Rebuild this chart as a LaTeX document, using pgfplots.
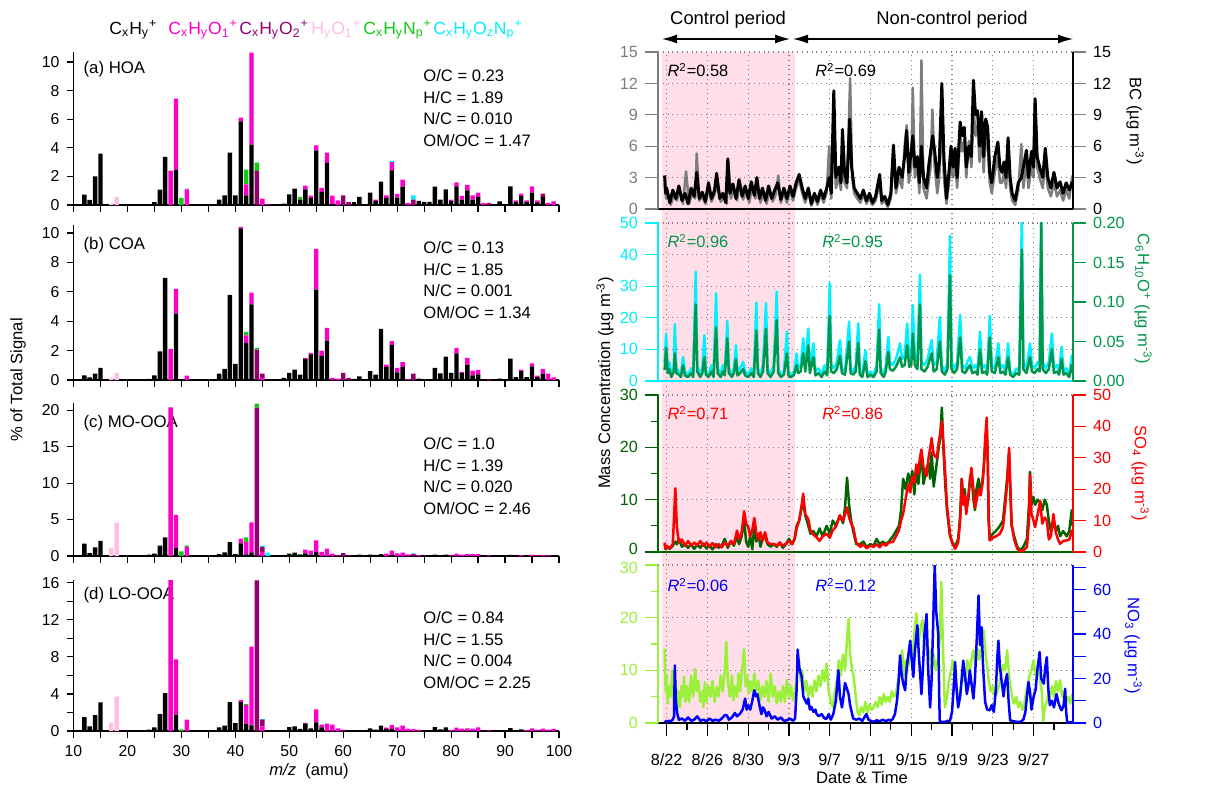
\documentclass[border=0pt]{standalone}
\usepackage{fontspec}
\setmainfont{Liberation Sans}
\usepackage{pgfplots}
\pgfplotsset{compat=1.18}
\usepackage{pgfplotstable}
\usetikzlibrary{arrows.meta}

% ion-family colours
\definecolor{cCH}{RGB}{0,0,0}
\definecolor{cO1}{RGB}{255,0,204}
\definecolor{cO2}{RGB}{150,0,110}
\definecolor{cHO}{RGB}{255,190,230}
\definecolor{cN}{RGB}{20,200,20}
\definecolor{cON}{RGB}{0,240,255}
% time-series colours
\definecolor{bcgray}{RGB}{125,125,125}
\definecolor{coacyan}{RGB}{0,240,255}
\definecolor{mzgreen}{RGB}{0,150,75}
\definecolor{moodark}{RGB}{0,100,0}
\definecolor{loolight}{RGB}{155,240,60}
\definecolor{pinkbg}{RGB}{255,222,234}

% m/z  CxHy  CxHyO1  CxHyO2  HyO1  CxHyNp  CxHyOzNp
\pgfplotstableread{
mz CH O1 O2 HO N ON
12 0.72 0 0 0 0 0
13 0.35 0 0 0 0 0
14 2.00 0 0 0 0 0
15 3.60 0 0 0 0 0
17 0 0 0 0.10 0 0
18 0 0 0 0.55 0 0
24 0.03 0 0 0 0 0
25 0.20 0 0 0 0 0
26 1.07 0 0 0 0 0
27 3.36 0 0 0 0 0
28 0 2.40 0 0 0 0
29 2.47 4.97 0 0 0 0
30 0 0 0 0 0.50 0
31 0 1.10 0 0 0.05 0
37 0.37 0 0 0 0 0
38 0.68 0 0 0 0 0
39 3.66 0 0 0 0 0
40 0.68 0 0 0 0 0
41 5.85 0.26 0 0 0 0
42 0.68 0.77 0 0 1.03 0
43 4.22 6.43 0 0 0 0
44 0 0 2.38 0 0.58 0
45 0 0.44 0 0 0 0
46 0 0.05 0 0 0 0
49 0.10 0 0 0 0 0
50 0.75 0 0 0 0 0
51 1.14 0 0 0 0 0
52 0.37 0 0 0 0.19 0
53 1.10 0.26 0 0 0 0
54 0.49 0.16 0 0 0 0
55 3.82 0.35 0 0 0 0
56 0.91 0.28 0 0 0 0
57 2.94 0.72 0 0 0 0
58 0.05 0.60 0 0 0 0
59 0 0.33 0 0 0 0
60 0 0 0.68 0 0 0
61 0 0 0.20 0 0 0
62 0.20 0 0 0 0 0
63 0.56 0 0 0 0 0
65 0.86 0 0 0 0 0
66 0.28 0.09 0 0 0 0
67 1.63 0 0 0 0 0
68 0.49 0.19 0 0 0 0
69 2.42 0.58 0 0 0 0.08
70 0.51 0.26 0 0 0 0
71 1.28 0.49 0 0 0 0
72 0 0.14 0 0 0 0
73 0 0 0.37 0 0 0.30
74 0.28 0 0 0 0 0
75 0.21 0 0 0 0 0
76 0.21 0 0 0 0 0
77 1.28 0 0 0 0 0
78 0.37 0 0 0 0 0
79 1.10 0 0 0 0 0
80 0.28 0.09 0 0 0 0
81 1.30 0.28 0 0 0 0
82 0.37 0.26 0 0 0 0
83 1.03 0.37 0 0 0 0
84 0.37 0.30 0 0 0 0
85 0.56 0.30 0 0 0 0
86 0 0.14 0 0 0 0
87 0 0 0.14 0 0 0
89 0.26 0 0 0 0 0
91 1.30 0 0 0 0 0
92 0.21 0.12 0 0 0 0
93 0.63 0.16 0 0 0 0
94 0.20 0.12 0 0 0 0
95 0.86 0.44 0 0 0 0
96 0.19 0.14 0 0 0 0
97 0.56 0 0.23 0 0 0
98 0 0.14 0 0 0 0
99 0 0.26 0 0 0 0
}\tblHOA

\pgfplotstableread{
mz CH O1 O2 HO N ON
12 0.32 0 0 0 0 0
13 0.18 0 0 0 0 0
14 0.43 0 0 0 0 0
15 0.82 0 0 0 0 0
17 0 0 0 0.14 0 0
18 0 0 0 0.48 0 0
24 0.07 0 0 0 0 0
25 0.32 0 0 0 0 0
26 1.95 0 0 0 0 0
27 6.95 0 0 0 0 0
28 0 2.11 0 0 0 0
29 4.52 1.68 0 0 0 0
31 0 0.30 0 0 0 0
37 0.43 0 0 0 0 0
38 0.75 0 0 0 0 0
39 5.80 0 0 0 0 0
40 1.09 0 0 0 0 0
41 10.32 0.11 0 0 0 0
42 2.52 0.52 0 0 0.23 0
43 5.14 0.80 0 0 0 0
44 0 0 2.07 0 0.10 0
45 0 0.15 0.28 0 0 0
49 0.14 0 0 0 0 0
50 0.48 0 0 0 0 0
51 0.70 0 0 0 0 0
52 0.36 0 0 0 0 0
53 1.43 0.07 0 0 0 0
54 1.75 0.09 0 0 0 0
55 6.16 2.77 0 0 0 0
56 1.64 0.36 0 0 0 0
57 2.68 0.86 0 0 0 0
58 0 0.14 0 0 0 0
59 0 0.09 0 0 0 0
60 0 0 0.48 0 0 0
61 0 0 0.14 0 0 0
62 0.07 0 0 0 0 0
63 0.25 0 0 0 0 0
65 0.61 0 0 0 0 0
66 0.36 0 0 0 0 0
67 3.48 0 0 0 0 0
68 0.89 0.16 0 0 0 0
69 2.39 0.25 0 0 0 0
70 0.52 0.30 0 0 0 0
71 0.89 0.32 0 0 0 0
72 0 0.05 0 0 0 0
73 0 0 0.43 0 0 0
74 0.09 0 0 0 0 0
77 0.82 0 0 0 0 0
78 0.45 0 0 0 0 0
79 1.59 0 0 0 0 0
80 0.48 0 0 0 0 0
81 1.82 0.36 0 0 0 0
82 0.48 0.07 0 0 0 0
83 1.05 0.45 0 0 0 0
84 0.32 0.32 0 0 0 0
85 0.39 0.30 0 0 0 0
87 0 0 0.05 0 0 0
89 0.10 0 0 0 0 0
91 1.45 0 0 0 0 0
92 0.20 0 0 0 0 0
93 0.61 0.09 0 0 0 0
94 0.20 0 0 0 0 0
95 0.93 0.20 0 0 0 0
96 0.20 0.09 0 0 0 0
97 0.43 0.32 0 0 0 0
98 0 0.43 0 0 0 0
99 0 0.18 0 0 0 0
}\tblCOA

\pgfplotstableread{
mz CH O1 O2 HO N ON
12 1.70 0 0 0 0 0
13 0.40 0 0 0 0 0
14 1.20 0 0 0 0 0
15 2.06 0 0 0 0 0
17 0 0 0 1.10 0 0
18 0 0 0 4.58 0 0
24 0.20 0 0 0 0 0
25 0.32 0 0 0 0 0
26 1.42 0 0 0 0 0
27 2.56 0 0 0 0 0
28 0 20.40 0 0 0 0
29 1.10 4.53 0 0 0 0
30 0 0 0 0 0.64 0
31 0 1.24 0 0 0.18 0
37 0.27 0 0 0 0 0
38 0.50 0 0 0 0 0
39 1.92 0 0 0 0 0
40 0.27 0 0 0 0 0
41 1.74 0.64 0 0 0 0
42 0.23 1.69 0 0 0.64 0
43 0.50 4.12 0 0 0 0
44 0 0 20.37 0 0.55 0
45 0 0.55 0.69 0 0 0.18
46 0 0 0 0 0 0.46
50 0.32 0 0 0 0 0
51 0.46 0 0 0 0 0
52 0.15 0 0 0 0.12 0
53 0.37 0.50 0 0 0 0
54 0.18 0.55 0 0 0 0
55 0.55 1.60 0 0 0 0
56 0 0.55 0 0 0 0
57 0 1.00 0 0 0 0
58 0 0.32 0 0 0 0
59 0 0.10 0 0 0 0
60 0 0 0.41 0 0 0
61 0 0 0.10 0 0 0
62 0.10 0 0 0 0 0
63 0.18 0 0 0 0 0
65 0.18 0 0 0 0 0
66 0.14 0 0 0 0 0
67 0.27 0 0 0 0 0
68 0 0.32 0 0 0 0
69 0.10 0.63 0 0 0 0
70 0 0.37 0 0 0 0
71 0 0.46 0 0 0 0
72 0 0.23 0 0 0 0
73 0 0 0.25 0 0 0.12
74 0 0.14 0 0 0 0
77 0.18 0 0 0 0 0
78 0.10 0 0 0 0 0
79 0.18 0 0 0 0 0
80 0 0.10 0 0 0 0
81 0 0.32 0 0 0 0
82 0 0.18 0 0 0 0
83 0 0.27 0 0 0 0
84 0 0.27 0 0 0 0
85 0 0.27 0 0 0 0
87 0 0.08 0 0 0 0
89 0.05 0 0 0 0 0
91 0.15 0 0 0 0 0
93 0 0.12 0 0 0 0
95 0 0.20 0 0 0 0
96 0 0.10 0 0 0 0
97 0 0.15 0 0 0 0
98 0 0.08 0 0 0 0
}\tblMOOOA

\pgfplotstableread{
mz CH O1 O2 HO N ON
12 1.50 0 0 0 0 0
13 0.50 0 0 0 0 0
14 1.72 0 0 0 0 0
15 3.08 0 0 0 0 0
17 0 0 0 0.90 0 0
18 0 0 0 3.70 0 0
24 0.14 0 0 0 0 0
25 0.39 0 0 0 0 0
26 1.83 0 0 0 0 0
27 4.09 0 0 0 0 0
28 0 16.30 0 0 0 0
29 1.76 5.98 0 0 0 0
30 0 0 0 0 0.18 0
31 0 1.22 0 0 0 0
37 0.39 0 0 0 0 0
38 0.57 0 0 0 0 0
39 3.12 0 0 0 0 0
40 0.86 0 0 0 0 0
41 3.12 0.22 0 0 0 0
42 0.79 2.00 0 0 0.10 0
43 0.61 8.50 0 0 0 0
44 0 0 16.27 0 0.21 0
45 0 0.50 0.72 0 0 0.07
50 0.43 0 0 0 0 0
51 0.50 0 0 0 0 0
52 0.22 0 0 0 0 0
53 0.82 0.07 0 0 0 0
54 0.29 0 0 0 0 0
55 0.93 1.40 0 0 0 0
56 0.39 0.29 0 0 0 0
57 0 0.79 0 0 0 0
58 0 0.68 0 0 0 0
59 0 0.29 0 0 0 0
60 0 0.07 0.07 0 0 0
62 0.07 0 0 0 0 0
63 0.07 0 0 0 0 0
65 0.29 0 0 0 0 0
66 0.14 0 0 0 0 0
67 0.57 0 0 0 0 0
68 0.22 0.14 0 0 0 0
69 0.22 0.43 0 0 0 0
70 0 0.39 0 0 0 0
71 0 0.57 0 0 0 0
72 0 0.25 0 0 0 0
73 0 0.15 0.07 0 0 0
74 0 0.14 0 0 0 0
77 0.43 0 0 0 0 0
78 0.18 0 0 0 0 0
79 0.39 0 0 0 0 0
80 0 0.10 0 0 0 0
81 0 0.36 0 0 0 0
82 0 0.25 0 0 0 0
83 0 0.29 0 0 0 0
84 0 0.25 0 0 0 0
85 0 0.39 0 0 0 0
87 0 0.08 0 0 0 0
89 0.08 0 0 0 0 0
91 0.32 0 0 0 0 0
93 0.18 0 0 0 0 0
94 0 0.10 0 0 0 0
95 0 0.29 0 0 0 0
96 0 0.15 0 0 0 0
97 0 0.25 0 0 0 0
98 0 0.15 0 0 0 0
99 0 0.22 0 0 0 0
}\tblLOOOA

\tikzset{
  ratio/.style={anchor=north west, align=left, inner sep=0pt,
    font=\fontsize{8.3}{10.75}\selectfont},
  plab/.style={anchor=west, inner sep=0pt, font=\fontsize{8.4}{10}\selectfont},
  rsq/.style={anchor=west, inner sep=0pt, font=\fontsize{8.2}{10}\selectfont},
}
\pgfplotsset{
  /pgf/number format/assume math mode=true,
  msaxis/.style={
    scale only axis, width=242.75pt, anchor=south west,
    xmin=10, xmax=100, ymin=0,
    axis x line*=bottom, axis y line*=left, tick align=outside,
    xtick={10,20,...,100}, minor xtick={15,25,...,95},
    major tick length=3.5pt, minor tick length=3.5pt,
    ybar stacked, bar width=0.82,
    axis line style={line width=0.6pt}, tick style={line width=0.6pt, black},
    tick label style={font=\fontsize{7.9}{9}\selectfont},
    every axis plot/.append style={draw=none},
  },
  tsbase/.style={
    scale only axis, width=207.5pt, anchor=south west,
    xmin=21.15, xmax=61.87, ymin=0,
    tick align=outside, major tick length=6.5pt, minor tick length=3.5pt,
    every axis plot/.append style={line width=1.25pt, line join=round, mark=none},
    grid style={dotted, gray, line width=0.55pt},
    axis line style={line width=0.6pt}, tick style={line width=0.6pt},
    tick label style={font=\fontsize{8.1}{9.2}\selectfont},
    yticklabel style={inner ysep=0pt},
  },
  tsleft/.style={tsbase, axis y line*=left, axis x line*=bottom, ymajorgrids},
  tsright/.style={tsbase, axis y line*=right, axis x line=none, xtick=\empty},
}

\newcommand{\msbars}[1]{%
  \addplot[fill=cCH] table[x=mz,y=CH]{#1};
  \addplot[fill=cO1] table[x=mz,y=O1]{#1};
  \addplot[fill=cO2] table[x=mz,y=O2]{#1};
  \addplot[fill=cHO] table[x=mz,y=HO]{#1};
  \addplot[fill=cN] table[x=mz,y=N]{#1};
  \addplot[fill=cON] table[x=mz,y=ON]{#1};
}
\newcommand{\unitlab}{(µg m\textsuperscript{-3})}

\begin{document}
\begin{tikzpicture}[font=\fontsize{8.2}{9.8}\selectfont]
\useasboundingbox (0pt,0pt) rectangle (612.5pt,-393pt);

% ===================== profile spectra =====================
\begin{axis}[msaxis, at={(36.75pt,-102.5pt)}, height=76.5pt, ymax=10.7,
  ytick={0,2,...,10}, xticklabel=\empty]
\msbars{\tblHOA}
\node[plab] at (rel axis cs:0.02,0.889) {(a) HOA};
\node[ratio] at (rel axis cs:0.72,0.886) {O/C = 0.23\\H/C = 1.89\\N/C = 0.010\\OM/OC = 1.47};
\end{axis}

\begin{axis}[msaxis, at={(36.75pt,-190pt)}, height=77.5pt, ymax=10.55,
  ytick={0,2,...,10}, xticklabel=\empty]
\msbars{\tblCOA}
\node[plab] at (rel axis cs:0.02,0.871) {(b) COA};
\node[ratio] at (rel axis cs:0.72,0.894) {O/C = 0.13\\H/C = 1.85\\N/C = 0.001\\OM/OC = 1.34};
\end{axis}

\begin{axis}[msaxis, at={(36.75pt,-278pt)}, height=76.5pt, ymax=21,
  ytick={0,5,...,20}, xticklabel=\empty]
\msbars{\tblMOOOA}
\node[plab] at (rel axis cs:0.02,0.869) {(c) MO-OOA};
\node[ratio] at (rel axis cs:0.72,0.775) {O/C = 1.0\\H/C = 1.39\\N/C = 0.020\\OM/OC = 2.46};
\end{axis}

\begin{axis}[msaxis, at={(36.75pt,-365.5pt)}, height=75.5pt, ymax=16.3,
  ytick={0,4,...,16}, minor ytick={2,6,10,14}]
\msbars{\tblLOOOA}
\node[plab] at (rel axis cs:0.02,0.9) {(d) LO-OOA};
\node[ratio] at (rel axis cs:0.72,0.791) {O/C = 0.84\\H/C = 1.55\\N/C = 0.004\\OM/OC = 2.25};
\end{axis}

% legend of ion families
\begin{scope}[every node/.style={anchor=base west, inner sep=0pt, font=\fontsize{8.8}{11}\selectfont}]
\node[text=cCH] at (54.5pt,-17.5pt) {C\textsubscript{x}H\textsubscript{y}\textsuperscript{+}};
\node[text=cO1] at (84pt,-17.5pt) {C\textsubscript{x}H\textsubscript{y}O\textsubscript{1}\textsuperscript{+}};
\node[text=cO2] at (119.5pt,-17.5pt) {C\textsubscript{x}H\textsubscript{y}O\textsubscript{2}\textsuperscript{+}};
\node[text=cHO] at (155.5pt,-17.5pt) {H\textsubscript{y}O\textsubscript{1}\textsuperscript{+}};
\node[text=cN] at (181.5pt,-17.5pt) {C\textsubscript{x}H\textsubscript{y}N\textsubscript{p}\textsuperscript{+}};
\node[text=cON] at (216.5pt,-17.5pt) {C\textsubscript{x}H\textsubscript{y}O\textsubscript{z}N\textsubscript{p}\textsuperscript{+}};
\end{scope}

\node[rotate=90, font=\fontsize{8.3}{10}\selectfont] at (9pt,-190pt) {\% of Total Signal};
\node[font=\fontsize{8.3}{10}\selectfont] at (154.5pt,-385.8pt) {\textit{m/z}\ \ (amu)};

% ===================== time series =====================
% shared background: control-period shading and date grid
\begin{axis}[scale only axis, width=207.5pt, height=335.5pt, anchor=south west,
  at={(329pt,-361.5pt)}, xmin=21.15, xmax=61.87, ymin=0, ymax=1,
  axis line style={draw=none}, tick style={draw=none},
  xtick={22,26,...,58}, xticklabel=\empty, ytick=\empty,
  xmajorgrids, grid style={dotted, gray, line width=0.55pt}, axis on top]
\addplot[fill=pinkbg, draw=none] coordinates {(21.54,0) (21.54,1) (34.6,1) (34.6,0)} \closedcycle;
\end{axis}

% ---- panel 1: BC
\begin{axis}[tsleft, at={(329pt,-104.5pt)}, height=78.5pt, ymax=15,
  ytick={0,3,...,15}, xtick=\empty,
  y axis line style={bcgray}, ytick style={bcgray}, yticklabel style={text=bcgray},
  x axis line style={black}]
\addplot[bcgray] coordinates {(21.8,2.5)(21.95,1.0)(22.1,1.5)(22.4,0.4)(22.7,1.3)(23.0,0.8)(23.3,1.8)(23.6,0.5)(23.9,3.6)(24.2,0.5)(24.5,1.5)(24.8,1.0)(24.95,5.3)(25.2,0.8)(25.5,1.2)(25.8,0.5)(26.1,2.0)(26.4,0.7)(26.7,1.4)(27.0,2.5)(27.3,0.7)(27.6,1.2)(27.9,0.5)(28.05,4.5)(28.3,1.0)(28.6,1.8)(28.9,0.8)(29.2,2.5)(29.5,0.9)(29.8,1.8)(30.1,0.6)(30.4,2.2)(30.7,1.0)(30.9,2.5)(31.2,0.6)(31.5,1.6)(31.8,0.5)(32.1,1.8)(32.4,0.7)(32.7,1.4)(32.95,3.2)(33.2,0.6)(33.5,1.6)(33.8,0.6)(34.1,1.8)(34.4,0.8)(34.7,2.0)(35.0,2.8)(35.3,1.5)(35.6,0.6)(35.9,1.6)(36.2,0.3)(36.5,1.2)(36.8,0.4)(37.1,1.4)(37.4,0.6)(37.7,1.6)(37.95,6.0)(38.15,1.0)(38.4,8.0)(38.6,2.0)(38.9,3.0)(39.1,1.8)(39.25,6.0)(39.45,2.5)(39.7,2.0)(40.0,12.5)(40.2,3.0)(40.4,1.5)(40.7,1.0)(41.0,0.6)(41.3,1.4)(41.6,0.5)(41.9,1.0)(42.2,0.4)(42.5,0.8)(42.9,2.5)(43.1,0.5)(43.4,0.8)(43.7,0.2)(44.0,1.0)(44.25,5.5)(44.5,1.5)(44.8,3.0)(45.1,2.0)(45.35,6.0)(45.55,8.0)(45.75,2.5)(46.0,4.0)(46.15,11.6)(46.35,3.0)(46.6,4.0)(46.8,1.5)(47.0,14.2)(47.2,2.0)(47.5,1.0)(47.7,2.5)(47.9,4.0)(48.07,9.5)(48.3,4.0)(48.55,1.5)(48.75,3.0)(49.0,9.0)(49.2,3.0)(49.45,0.5)(49.7,2.5)(49.9,4.5)(50.1,3.0)(50.3,4.5)(50.5,2.0)(50.8,7.0)(51.0,5.5)(51.2,6.5)(51.4,3.0)(51.65,6.5)(51.9,4.0)(52.1,10.0)(52.3,7.0)(52.5,8.0)(52.7,4.5)(52.9,7.5)(53.1,3.5)(53.3,7.0)(53.5,6.0)(53.7,2.5)(53.9,1.5)(54.2,3.5)(54.5,5.0)(54.7,2.5)(54.9,2.5)(55.1,3.5)(55.3,2.0)(55.5,5.5)(55.7,2.0)(55.9,0.8)(56.2,0.4)(56.5,1.8)(56.8,6.2)(57.0,2.0)(57.3,4.5)(57.5,2.0)(57.8,4.0)(58.0,3.0)(58.15,10.6)(58.35,4.0)(58.6,3.0)(58.9,2.0)(59.15,4.5)(59.4,2.0)(59.7,1.2)(60.0,2.5)(60.3,1.2)(60.6,1.8)(60.9,0.8)(61.2,1.8)(61.5,1.0)(61.8,3.2)};
\node[rsq] at (rel axis cs:0.022,0.885) {\textit{R}\textsuperscript{2}=0.58};
\node[rsq] at (rel axis cs:0.378,0.885) {\textit{R}\textsuperscript{2}=0.69};
\end{axis}
\begin{axis}[tsright, at={(329pt,-104.5pt)}, height=78.5pt, ymax=15, ytick={0,3,...,15}]
\addplot[black, line width=1.5pt] coordinates {(21.8,3.2)(21.9,1.5)(22.0,2.0)(22.3,0.6)(22.6,1.8)(22.9,1.0)(23.2,2.2)(23.5,0.8)(23.8,1.5)(24.1,0.5)(24.4,2.0)(24.7,1.2)(24.95,3.5)(25.2,1.0)(25.5,1.6)(25.8,0.7)(26.1,2.5)(26.4,1.0)(26.7,1.8)(26.9,3.4)(27.2,1.0)(27.5,1.5)(27.8,0.6)(28.0,4.8)(28.2,1.5)(28.5,2.4)(28.8,1.0)(29.1,2.8)(29.4,1.2)(29.7,2.2)(30.0,1.0)(30.3,2.6)(30.6,1.3)(30.85,3.0)(31.1,1.0)(31.4,2.0)(31.7,0.8)(32.0,2.2)(32.3,1.0)(32.6,1.8)(32.9,2.5)(33.2,0.9)(33.5,2.0)(33.8,1.0)(34.1,2.2)(34.4,1.2)(34.7,2.5)(35.0,3.3)(35.3,2.0)(35.6,1.0)(35.9,2.0)(36.2,0.5)(36.5,1.5)(36.8,0.7)(37.1,1.8)(37.4,1.0)(37.7,2.0)(37.95,3.0)(38.15,1.5)(38.4,11.3)(38.6,3.0)(38.9,4.0)(39.1,2.5)(39.25,7.6)(39.45,3.5)(39.7,2.5)(39.95,8.6)(40.15,4.0)(40.4,2.0)(40.7,1.5)(41.0,1.0)(41.3,1.8)(41.6,0.8)(41.9,1.5)(42.2,0.6)(42.5,1.2)(42.9,3.3)(43.1,0.8)(43.4,1.2)(43.7,0.4)(44.0,1.5)(44.25,6.1)(44.5,2.0)(44.8,4.0)(45.1,3.0)(45.35,5.0)(45.55,7.5)(45.75,3.5)(46.0,5.5)(46.15,7.0)(46.35,4.0)(46.6,5.0)(46.8,2.5)(47.0,6.0)(47.2,3.0)(47.5,2.0)(47.7,4.0)(47.9,5.5)(48.1,7.0)(48.3,5.5)(48.55,3.0)(48.75,4.5)(49.0,12.0)(49.2,5.0)(49.45,1.0)(49.7,3.5)(49.9,6.0)(50.1,4.0)(50.3,5.8)(50.5,3.0)(50.8,8.3)(51.0,7.0)(51.2,7.8)(51.4,4.0)(51.65,6.0)(51.9,5.0)(52.1,12.3)(52.3,9.0)(52.5,9.4)(52.7,6.0)(52.9,9.3)(53.1,5.0)(53.3,8.6)(53.5,7.8)(53.7,3.5)(53.9,2.5)(54.2,5.0)(54.5,6.4)(54.7,4.0)(54.9,3.5)(55.1,4.5)(55.3,3.0)(55.5,6.8)(55.7,3.0)(55.9,1.5)(56.2,0.8)(56.5,2.5)(56.8,3.0)(57.1,4.5)(57.3,5.6)(57.5,3.0)(57.8,5.5)(58.0,4.0)(58.15,10.5)(58.35,5.0)(58.6,4.0)(58.9,3.0)(59.15,5.8)(59.4,3.0)(59.7,2.0)(60.0,3.5)(60.3,2.0)(60.6,2.6)(60.9,1.5)(61.2,2.5)(61.5,1.8)(61.8,2.6)};
\end{axis}

% ---- panel 2: COA and C6H10O+
\begin{axis}[tsleft, at={(329pt,-190.5pt)}, height=79pt, ymax=50,
  ytick={0,10,...,50}, xtick=\empty,
  y axis line style={coacyan}, ytick style={coacyan}, yticklabel style={text=coacyan},
  x axis line style={coacyan}]
\addplot[coacyan] coordinates {(21.8,6)(21.95,15)(22.1,4)(22.25,6)(22.45,2)(22.7,5)(22.8,18)(22.95,4)(23.2,3)(23.4,2)(23.6,7.6)(23.8,3)(24.1,2)(24.4,4)(24.6,2)(24.85,34.6)(25.0,5)(25.3,2)(25.5,4)(25.7,14.5)(25.85,3)(26.1,2)(26.4,5)(26.6,2)(26.85,27.8)(27.0,4)(27.3,2)(27.5,5)(27.7,3)(27.95,19)(28.1,4)(28.4,2)(28.6,4)(28.8,11.3)(28.95,3)(29.2,4)(29.5,6)(29.7,3)(30.0,2)(30.3,4)(30.55,2)(30.8,24.8)(30.95,4)(31.2,2)(31.45,5)(31.75,24.6)(31.9,4)(32.2,2)(32.5,5)(32.8,28.3)(32.95,4)(33.2,2)(33.5,3)(33.8,15.6)(33.95,3)(34.2,2)(34.5,3)(34.75,8.7)(34.9,4)(35.15,5)(35.4,13.5)(35.6,5)(35.9,16.6)(36.05,4)(36.4,11.9)(36.6,3)(36.9,4)(37.2,2)(37.5,5)(37.75,3)(38.0,31)(38.15,5)(38.4,4)(38.7,6)(39.0,12.9)(39.2,4)(39.5,3)(39.9,18.8)(40.05,4)(40.3,3)(40.55,5)(40.8,18.2)(40.95,3)(41.2,2)(41.5,9.7)(41.7,2)(42.0,3)(42.3,2)(42.6,5)(42.85,24.3)(43.0,4)(43.3,2)(43.5,5)(43.75,14)(43.9,6)(44.2,5)(44.5,7)(44.9,11.9)(45.1,7)(45.35,8)(45.6,18.2)(45.8,7)(46.0,8)(46.15,24)(46.35,8)(46.6,6)(46.85,33.6)(47.0,6)(47.3,5)(47.6,7)(48.0,13)(48.2,5)(48.5,6)(48.8,20.3)(49.0,5)(49.3,3)(49.55,6)(49.8,46)(49.95,6)(50.2,4)(50.5,6)(50.8,20.9)(51.0,5)(51.3,4)(51.5,6)(51.75,7.6)(52.0,4)(52.3,5)(52.5,3)(52.75,15.6)(52.95,4)(53.2,5)(53.45,3)(53.7,20.6)(53.9,5)(54.2,4)(54.55,11.9)(54.75,4)(55.0,5)(55.25,3)(55.5,11.9)(55.7,3)(56.0,2)(56.3,4)(56.6,3)(56.85,52)(57.0,6)(57.3,4)(57.65,11.9)(57.85,5)(58.1,4)(58.4,6)(58.6,5)(58.75,52)(58.9,6)(59.2,4)(59.5,6)(59.8,15)(60.0,4)(60.3,5)(60.5,3)(60.75,10.8)(60.95,3)(61.2,4)(61.5,2)(61.75,8.2)(61.85,4)};
\node[rsq, text=mzgreen] at (rel axis cs:0.022,0.886) {\textit{R}\textsuperscript{2}=0.96};
\node[rsq, text=mzgreen] at (rel axis cs:0.395,0.886) {\textit{R}\textsuperscript{2}=0.95};
\end{axis}
\begin{axis}[tsright, at={(329pt,-190.5pt)}, height=79pt, ymax=0.2,
  ytick={0,0.05,0.1,0.15,0.2}, yticklabels={0.00,0.05,0.10,0.15,0.20},
  y axis line style={mzgreen}, ytick style={mzgreen}, yticklabel style={text=mzgreen}]
\addplot[mzgreen] coordinates {(21.8,0.014)(21.95,0.042)(22.1,0.01)(22.25,0.015)(22.45,0.005)(22.7,0.012)(22.8,0.035)(22.95,0.01)(23.2,0.008)(23.4,0.005)(23.6,0.02)(23.8,0.007)(24.1,0.005)(24.4,0.01)(24.6,0.005)(24.85,0.097)(25.0,0.012)(25.3,0.005)(25.5,0.01)(25.7,0.03)(25.85,0.008)(26.1,0.005)(26.4,0.012)(26.6,0.005)(26.85,0.068)(27.0,0.01)(27.3,0.005)(27.5,0.012)(27.7,0.007)(27.95,0.054)(28.1,0.01)(28.4,0.005)(28.6,0.01)(28.8,0.028)(28.95,0.007)(29.2,0.01)(29.5,0.015)(29.7,0.007)(30.0,0.005)(30.3,0.01)(30.55,0.005)(30.8,0.064)(30.95,0.01)(31.2,0.005)(31.45,0.012)(31.75,0.066)(31.9,0.01)(32.2,0.005)(32.5,0.012)(32.8,0.077)(32.95,0.01)(33.2,0.005)(33.5,0.008)(33.8,0.035)(33.95,0.007)(34.2,0.005)(34.5,0.008)(34.75,0.02)(34.9,0.01)(35.15,0.012)(35.4,0.035)(35.6,0.012)(35.9,0.045)(36.05,0.01)(36.4,0.03)(36.6,0.007)(36.9,0.01)(37.2,0.005)(37.5,0.012)(37.75,0.007)(38.0,0.082)(38.15,0.012)(38.4,0.01)(38.7,0.015)(39.0,0.032)(39.2,0.01)(39.5,0.008)(39.9,0.05)(40.05,0.01)(40.3,0.008)(40.55,0.012)(40.8,0.048)(40.95,0.008)(41.2,0.005)(41.5,0.025)(41.7,0.005)(42.0,0.008)(42.3,0.005)(42.6,0.012)(42.85,0.065)(43.0,0.01)(43.3,0.005)(43.5,0.012)(43.75,0.037)(43.9,0.015)(44.2,0.013)(44.5,0.018)(44.9,0.03)(45.1,0.018)(45.35,0.02)(45.6,0.045)(45.8,0.018)(46.0,0.02)(46.15,0.06)(46.35,0.02)(46.6,0.015)(46.85,0.097)(47.0,0.015)(47.3,0.012)(47.6,0.018)(48.0,0.035)(48.2,0.012)(48.5,0.015)(48.8,0.05)(49.0,0.012)(49.3,0.008)(49.55,0.015)(49.8,0.134)(49.95,0.015)(50.2,0.01)(50.5,0.015)(50.8,0.055)(51.0,0.012)(51.3,0.01)(51.5,0.015)(51.75,0.02)(52.0,0.01)(52.3,0.012)(52.5,0.008)(52.75,0.04)(52.95,0.01)(53.2,0.012)(53.45,0.008)(53.7,0.055)(53.9,0.012)(54.2,0.01)(54.55,0.03)(54.75,0.01)(55.0,0.012)(55.25,0.008)(55.5,0.03)(55.7,0.008)(56.0,0.005)(56.3,0.01)(56.6,0.008)(56.85,0.166)(57.0,0.015)(57.3,0.01)(57.65,0.03)(57.85,0.012)(58.1,0.01)(58.4,0.015)(58.6,0.012)(58.75,0.2)(58.9,0.015)(59.2,0.01)(59.5,0.015)(59.8,0.04)(60.0,0.01)(60.3,0.012)(60.5,0.008)(60.75,0.028)(60.95,0.008)(61.2,0.01)(61.5,0.005)(61.75,0.02)(61.85,0.01)};
\end{axis}

% ---- panel 3: MO-OOA and SO4
\begin{axis}[tsleft, at={(329pt,-276pt)}, height=78.5pt, ymax=30,
  ytick={10,20,30}, minor ytick={5,15,25}, xtick=\empty,
  extra y ticks={0}, extra y tick style={yticklabel style={yshift=1.6pt}, major grid style={draw=none}},
  y axis line style={moodark}, ytick style={moodark}, yticklabel style={text=moodark},
  x axis line style={moodark}]
\addplot[moodark] coordinates {(21.8,1.5)(21.9,0.5)(22.0,1.0)(22.3,0.6)(22.6,1.2)(22.85,2.0)(23.0,1.5)(23.2,2.5)(23.5,1.0)(23.8,1.5)(24.1,0.8)(24.4,1.5)(24.7,0.6)(25.0,1.4)(25.3,0.8)(25.6,1.6)(25.9,0.7)(26.2,1.2)(26.5,0.5)(26.8,1.5)(27.1,0.8)(27.4,1.2)(27.7,2.5)(28.0,0.8)(28.3,2.0)(28.6,1.2)(28.9,3.0)(29.1,1.5)(29.35,3.0)(29.6,6.0)(29.8,2.0)(30.0,1.0)(30.2,3.0)(30.4,0.5)(30.6,5.0)(30.8,2.0)(31.0,3.5)(31.2,1.0)(31.4,2.5)(31.65,3.0)(31.9,1.5)(32.2,1.0)(32.5,1.5)(32.8,1.0)(33.1,1.8)(33.4,0.8)(33.7,1.5)(34.0,2.5)(34.3,1.5)(34.55,2.5)(34.75,5.0)(35.0,6.0)(35.2,8.0)(35.4,9.5)(35.6,7.0)(35.9,5.0)(36.1,3.5)(36.4,4.0)(36.7,3.0)(37.0,4.5)(37.3,3.0)(37.7,5.0)(38.0,3.5)(38.3,6.0)(38.6,5.0)(39.0,7.0)(39.3,5.5)(39.5,8.5)(39.7,14.2)(39.9,9.0)(40.1,6.0)(40.3,4.0)(40.6,1.5)(41.0,1.5)(41.3,2.0)(41.6,1.0)(42.0,1.5)(42.3,1.2)(42.6,2.5)(42.9,1.5)(43.2,2.0)(43.5,1.5)(43.8,2.0)(44.2,3.0)(44.5,4.0)(44.8,5.0)(45.0,8.0)(45.2,14.0)(45.45,12.0)(45.7,15.0)(45.9,13.0)(46.1,15.5)(46.3,11.0)(46.5,16.0)(46.7,13.0)(46.85,16.0)(47.0,19.0)(47.2,13.0)(47.5,16.0)(47.7,17.0)(47.85,14.0)(48.0,19.0)(48.2,12.5)(48.5,17.0)(48.7,20.0)(48.85,22.0)(49.0,27.6)(49.15,20.0)(49.3,14.0)(49.5,8.0)(49.8,3.0)(50.0,2.0)(50.3,1.0)(50.6,2.5)(50.8,7.0)(50.95,14.0)(51.1,10.0)(51.25,12.0)(51.4,8.0)(51.6,10.0)(51.75,14.0)(51.9,15.0)(52.1,10.0)(52.25,8.0)(52.4,12.0)(52.6,14.0)(52.8,11.0)(53.0,14.0)(53.1,16.0)(53.25,20.0)(53.4,24.0)(53.5,18.0)(53.6,6.0)(53.7,2.5)(54.0,3.5)(54.3,4.0)(54.7,5.0)(55.0,6.0)(55.2,10.0)(55.4,14.0)(55.6,19.0)(55.75,10.0)(55.85,5.0)(56.1,3.0)(56.4,1.0)(56.7,0.3)(57.0,1.0)(57.35,2.5)(57.55,9.0)(57.65,15.3)(57.8,9.0)(58.0,10.5)(58.15,9.0)(58.4,10.0)(58.65,9.5)(58.85,8.0)(59.1,10.0)(59.3,9.0)(59.5,6.0)(59.7,4.0)(59.95,5.5)(60.2,4.0)(60.4,5.0)(60.6,3.0)(60.9,4.0)(61.25,3.0)(61.5,4.0)(61.75,8.0)(61.85,5.0)};
\node[rsq, text=red] at (rel axis cs:0.022,0.885) {\textit{R}\textsuperscript{2}=0.71};
\node[rsq, text=red] at (rel axis cs:0.395,0.885) {\textit{R}\textsuperscript{2}=0.86};
\end{axis}
\begin{axis}[tsright, at={(329pt,-276pt)}, height=78.5pt, ymax=50,
  ytick={0,10,...,50},
  y axis line style={red}, ytick style={red}, yticklabel style={text=red}]
\addplot[red] coordinates {(21.8,3.0)(21.9,1.0)(22.0,2.0)(22.3,1.2)(22.6,2.5)(22.85,20.3)(23.0,8)(23.2,3)(23.5,4)(23.8,2)(24.1,3.5)(24.4,2)(24.7,3)(25.0,2.2)(25.3,3.5)(25.6,2)(25.9,3)(26.2,1.8)(26.5,2.8)(26.8,1.5)(27.1,2.5)(27.4,1.5)(27.7,3)(28.0,2)(28.3,3.5)(28.6,2.5)(28.9,6.8)(29.1,4)(29.35,6)(29.6,13)(29.8,9)(30.0,8)(30.2,5)(30.4,7)(30.6,10.8)(30.8,6)(31.0,4)(31.2,6.3)(31.4,3.5)(31.65,6.3)(31.9,3)(32.2,2.5)(32.5,2.6)(32.8,2)(33.1,3)(33.4,2)(33.7,2.6)(34.0,3.5)(34.3,2.5)(34.55,4)(34.75,7.4)(35.0,10)(35.2,14)(35.4,18.6)(35.6,12)(35.9,10.5)(36.1,7)(36.4,5.5)(36.7,4.7)(37.0,3.5)(37.3,5)(37.7,5.8)(38.0,4.5)(38.3,7)(38.6,8)(39.0,11.6)(39.3,10)(39.5,12)(39.7,14.2)(39.9,11)(40.1,9)(40.3,7.9)(40.6,3)(41.0,1.6)(41.3,2.5)(41.6,1.2)(42.0,2)(42.3,1.6)(42.6,2.5)(42.9,1.5)(43.2,2.8)(43.5,2)(43.8,3)(44.2,3.2)(44.5,5)(44.8,7)(45.0,10)(45.2,12.1)(45.45,17)(45.7,21.6)(45.9,19)(46.1,24)(46.3,22)(46.5,27.9)(46.7,25)(46.85,30)(47.0,32.6)(47.2,27)(47.5,24.2)(47.7,30)(47.85,33)(48.0,36.3)(48.2,31)(48.5,30)(48.7,35)(48.85,38)(49.0,41.6)(49.15,35)(49.3,26.8)(49.5,15)(49.8,5.8)(50.0,3)(50.3,1)(50.6,3)(50.8,10)(50.95,23.2)(51.1,15)(51.25,18)(51.4,12.1)(51.6,18)(51.75,22)(51.9,26.8)(52.1,20)(52.25,14)(52.4,16.3)(52.6,20)(52.8,18)(53.0,22)(53.1,25.8)(53.25,36)(53.4,42.8)(53.5,30)(53.6,10)(53.7,3.7)(54.0,4.5)(54.3,5)(54.7,5.8)(55.0,8)(55.2,14)(55.4,21.6)(55.6,33.2)(55.75,18)(55.85,8.9)(56.1,4)(56.4,1)(56.7,0.2)(57.0,0.5)(57.35,1.6)(57.55,10)(57.65,24.7)(57.8,12)(58.0,10)(58.15,7.9)(58.4,12)(58.65,16.3)(58.85,9)(59.1,11)(59.3,10)(59.5,4)(59.7,5)(59.95,12.1)(60.2,6)(60.4,4)(60.6,2.6)(60.9,3.5)(61.25,3.7)(61.5,4)(61.75,6.8)(61.85,5)};
\end{axis}

% ---- panel 4: LO-OOA and NO3
\begin{axis}[tsleft, at={(329pt,-361.5pt)}, height=79pt, ymax=30,
  ytick={0,10,20}, minor ytick={5,15,25},
  extra y ticks={30}, extra y tick style={yticklabel style={yshift=-1.6pt}},
  y axis line style={loolight}, ytick style={loolight}, yticklabel style={text=loolight},
  x axis line style={black}, xtick style={black},
  xtick={22,26,...,58}, minor xtick={24,28,...,60},
  xticklabels={8/22,8/26,8/30,9/3,9/7,9/11,9/15,9/19,9/23,9/27},
  xticklabel style={yshift=-5.5pt}]
\addplot[loolight] coordinates {(21.8,14.1)(21.9,6)(22.0,9)(22.1,3.7)(22.25,7)(22.4,5)(22.55,10)(22.7,4)(22.85,8)(23.0,3)(23.15,6)(23.3,3)(23.45,7)(23.6,5)(23.7,8.8)(23.85,4)(24.0,7)(24.2,4)(24.4,9)(24.6,5)(24.8,10.3)(24.95,6)(25.1,8)(25.3,4)(25.5,6)(25.6,3)(25.75,7.8)(25.9,4)(26.1,7)(26.3,5)(26.5,8)(26.7,4)(26.9,6.8)(27.1,5)(27.3,9)(27.5,6)(27.7,10)(27.85,15.4)(28.0,8)(28.2,5)(28.4,9)(28.55,4.3)(28.7,7)(28.9,5)(29.05,9.4)(29.2,6)(29.4,10)(29.6,14.1)(29.75,7)(29.9,9)(30.05,5.6)(30.2,8)(30.4,6)(30.6,9.4)(30.8,6)(31.0,8)(31.2,4.3)(31.4,7)(31.6,5)(31.8,8)(32.0,4)(32.2,9.4)(32.4,5)(32.6,7)(32.8,3.7)(33.0,6)(33.2,4)(33.4,7)(33.6,4)(33.8,8.1)(34.0,5)(34.2,7)(34.4,4.3)(34.6,6)(34.8,9)(35.0,11.9)(35.15,8)(35.3,10)(35.5,6)(35.7,8)(35.9,5)(36.1,7)(36.3,5)(36.5,8.1)(36.7,6)(36.9,9)(37.1,7)(37.3,10)(37.5,8)(37.7,11.3)(37.9,6)(38.1,4)(38.3,3)(38.5,6)(38.7,8)(38.9,11.9)(39.1,9)(39.3,13)(39.5,10)(39.7,16)(39.85,19.8)(40.0,13)(40.2,10)(40.35,8.8)(40.55,5)(40.75,2)(40.9,1.5)(41.1,3)(41.3,2)(41.5,4)(41.7,2)(41.9,3.5)(42.1,2.5)(42.3,3)(42.5,4)(42.7,3)(42.9,5)(43.1,3.5)(43.3,5.5)(43.5,4)(43.7,5)(43.9,4)(44.1,6)(44.3,5)(44.5,5.6)(44.7,8)(44.9,10)(45.1,13.8)(45.3,9)(45.5,12)(45.7,10.7)(45.9,14)(46.1,12)(46.3,17)(46.5,20.8)(46.7,15)(46.9,18)(47.1,19.5)(47.3,14)(47.5,16)(47.7,12)(47.85,13.8)(48.0,10)(48.2,13)(48.4,10)(48.6,11.9)(48.8,16)(48.95,26.8)(49.1,15)(49.3,3)(49.5,5)(49.7,8)(49.9,10)(50.1,11.9)(50.3,8)(50.5,6)(50.7,4.3)(50.9,7)(51.1,9)(51.3,8)(51.5,11.9)(51.7,9)(51.9,12)(52.1,13.8)(52.3,11)(52.5,14)(52.7,12)(52.9,15)(53.1,17.6)(53.3,13)(53.45,10.7)(53.6,8)(53.8,6)(54.0,7)(54.2,5)(54.4,5.6)(54.6,7)(54.8,9)(55.0,11)(55.2,10)(55.4,13.8)(55.6,9)(55.8,6)(56.0,4)(56.1,3.7)(56.3,5)(56.5,3)(56.7,4)(56.9,2.5)(57.05,3)(57.2,5)(57.4,7)(57.6,9)(57.8,10)(58.0,11.9)(58.2,9)(58.4,10)(58.6,8.8)(58.8,6)(58.95,0.3)(59.1,3)(59.3,4)(59.5,6)(59.6,5)(59.8,7)(60.0,5)(60.2,8)(60.4,6)(60.6,8.1)(60.8,5)(61.0,6)(61.2,4)(61.4,5)(61.6,3.7)(61.8,5.6)};
\node[rsq, text=blue] at (rel axis cs:0.022,0.873) {\textit{R}\textsuperscript{2}=0.06};
\node[rsq, text=blue] at (rel axis cs:0.378,0.873) {\textit{R}\textsuperscript{2}=0.12};
\end{axis}
\begin{axis}[tsright, at={(329pt,-361.5pt)}, height=79pt, ymax=71,
  ytick={0,10,...,70}, yticklabels={0,,20,,40,,60,},
  y axis line style={blue}, ytick style={blue}, yticklabel style={text=blue}]
\addplot[blue] coordinates {(21.8,1)(22.0,0.5)(22.2,1)(22.4,0.8)(22.6,1.5)(22.72,3)(22.8,25.9)(22.9,10)(23.05,4)(23.2,1.5)(23.5,2)(23.8,1)(24.1,2.5)(24.4,1)(24.7,1.5)(25.0,3)(25.3,1)(25.6,1.5)(25.9,0.8)(26.2,2)(26.5,1)(26.8,1.5)(27.1,1)(27.4,2)(27.7,3.5)(27.9,3.5)(28.1,1.5)(28.4,2.5)(28.7,4.5)(28.9,3)(29.2,4.2)(29.45,6)(29.7,11)(29.85,6)(30.0,8)(30.2,6)(30.4,10)(30.6,14.7)(30.75,12)(30.9,13)(31.1,8)(31.3,4)(31.45,7)(31.6,6)(31.8,3)(32.0,5)(32.3,2)(32.6,3)(32.9,1.5)(33.2,2.5)(33.5,1)(33.8,1.2)(34.1,2)(34.4,1)(34.6,2)(34.75,15)(34.85,33)(35.0,25)(35.25,20.7)(35.4,12)(35.6,10)(35.75,8.7)(35.9,11)(36.05,6)(36.2,7.2)(36.4,5)(36.6,6)(36.7,4.2)(36.9,3)(37.2,4)(37.5,2)(37.7,2)(37.9,4)(38.1,1.5)(38.35,4)(38.6,10)(38.85,23.7)(39.0,12)(39.2,7)(39.35,12)(39.5,18)(39.65,16)(39.85,13)(40.0,8)(40.15,5)(40.3,2)(40.6,1.5)(40.9,2)(41.2,1)(41.4,2.5)(41.6,4)(41.8,1.5)(42.0,1)(42.3,0.5)(42.6,1.2)(42.9,0.8)(43.2,1.5)(43.5,0.8)(43.8,1.5)(44.0,1)(44.2,2)(44.4,4)(44.6,10)(44.75,18)(44.9,30.4)(45.05,22)(45.2,18)(45.4,14.7)(45.55,25)(45.7,30)(45.9,37)(46.05,28)(46.2,20.7)(46.35,32)(46.6,43.9)(46.75,30)(46.9,20)(47.0,13)(47.15,25)(47.3,40)(47.5,49)(47.65,25)(47.85,7)(48.0,20)(48.15,45)(48.3,70.8)(48.45,50)(48.65,40)(48.75,10)(48.8,0.5)(49.0,0.5)(49.3,0.5)(49.6,1)(49.8,1)(50.0,5)(50.15,15)(50.3,27.4)(50.45,15)(50.6,7)(50.8,12)(50.95,20)(51.1,28)(51.3,20)(51.45,13)(51.6,17)(51.75,23.7)(51.9,18)(52.1,11)(52.25,20)(52.45,40)(52.6,57.3)(52.75,35)(52.9,43)(53.05,25)(53.25,9.4)(53.45,6)(53.7,5.7)(53.9,8)(54.1,5)(54.3,15)(54.45,30)(54.55,37)(54.7,25)(54.9,17.7)(55.05,12)(55.2,18)(55.4,22)(55.55,10)(55.7,1.2)(56.0,0.8)(56.4,0.5)(56.7,0.5)(57.0,1.5)(57.2,5)(57.35,12)(57.5,18.4)(57.65,14)(57.8,6)(58.0,11.7)(58.2,15)(58.4,25)(58.6,31.9)(58.75,20)(59.0,17.7)(59.15,25)(59.3,29.6)(59.45,15)(59.6,8)(59.8,10)(60.0,7)(60.25,13)(60.45,9)(60.6,7)(60.75,5.7)(60.95,8)(61.1,15.4)(61.2,5)(61.3,0.3)(61.6,0.3)(61.85,0.3)};
\end{axis}

% period arrows and labels
\draw[line width=0.6pt, {Latex[length=7.5pt,width=4.5pt]}-{Latex[length=7.5pt,width=4.5pt]}] (331pt,-19.5pt) -- (395pt,-19.5pt);
\draw[line width=0.6pt, {Latex[length=7.5pt,width=4.5pt]}-{Latex[length=7.5pt,width=4.5pt]}] (396.5pt,-19.5pt) -- (536.5pt,-19.5pt);
\node[font=\fontsize{9.2}{11}\selectfont] at (364pt,-10pt) {Control period};
\node[font=\fontsize{9.2}{11}\selectfont] at (476pt,-10pt) {Non-control period};

% axis titles
\node[rotate=90, font=\fontsize{8.3}{10}\selectfont] at (302.5pt,-191.5pt) {Mass Concentration \unitlab};
\node[font=\fontsize{8.3}{10}\selectfont] at (431pt,-389pt) {Date \& Time};
\begin{scope}[every node/.style={rotate=-90, font=\fontsize{8.3}{10}\selectfont}]
\node at (567.5pt,-60.5pt) {BC \unitlab};
\node[text=mzgreen] at (571.5pt,-149.5pt) {C\textsubscript{6}H\textsubscript{10}O\textsuperscript{+} \unitlab};
\node[text=red] at (570pt,-236.5pt) {SO\textsubscript{4} \unitlab};
\node[text=blue] at (566.5pt,-323pt) {NO\textsubscript{3} \unitlab};
\end{scope}
\end{tikzpicture}
\end{document}
